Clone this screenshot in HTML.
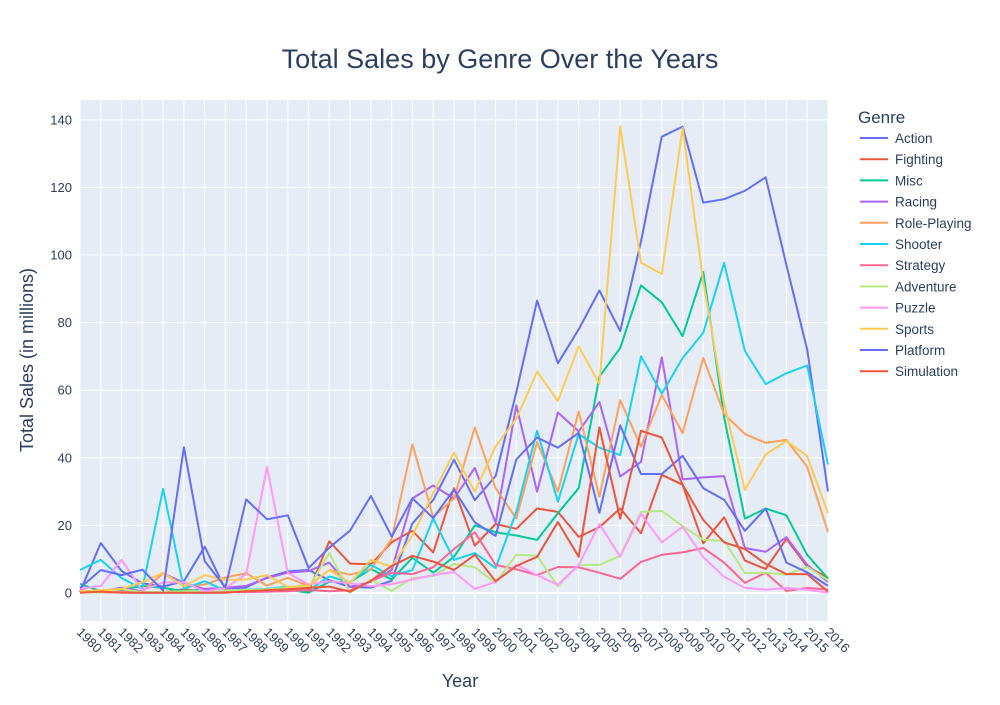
<!DOCTYPE html>
<html><head><meta charset="utf-8"><style>
body{margin:0;background:#fff;}
svg text{font-family:"Liberation Sans",sans-serif;}
</style></head><body>
<svg id="chart" width="1000" height="700" xmlns="http://www.w3.org/2000/svg">
<rect width="1000" height="700" fill="#fff"/>
<text x="500" y="68" text-anchor="middle" font-size="27" fill="#2a3f5f">Total Sales by Genre Over the Years</text>
<rect x="80" y="100" width="748" height="521" fill="#e5ecf6"/>
<g id="grid"></g><g id="series"></g><g id="axes"></g><g id="legend"></g>
<text x="460" y="687" text-anchor="middle" font-size="18" fill="#2a3f5f">Year</text>
<text transform="translate(33,360) rotate(-90)" text-anchor="middle" font-size="18" fill="#2a3f5f">Total Sales (in millions)</text>
</svg>
<script>
const years = [];
for (let y = 1980; y <= 2016; y++) years.push(y);
const yTicks = [0, 20, 40, 60, 80, 100, 120, 140];
const genres = ["Action","Fighting","Misc","Racing","Role-Playing","Shooter","Strategy","Adventure","Puzzle","Sports","Platform","Simulation"];
const colors = ["#636efa","#EF553B","#00cc96","#ab63fa","#FFA15A","#19d3f3","#FF6692","#B6E880","#FF97FF","#FECB52","#636efa","#EF553B"];
const action = [0.3,14.8,6.5,2.9,1.9,3.5,13.7,1.1,1.7,4.6,6.4,6.8,3.8,1.8,1.6,3.6,20.6,27.5,39.4,27.5,34.6,59.4,86.5,68,78,89.5,77.5,104,135,138,115.5,116.5,119,123,97,72,30];
const fighting = [0.8,0.2,0.2,0.2,0.2,1.1,0.3,0.4,0.5,0.6,1.2,0.4,15.3,8.7,8.5,15,18.4,12,31,14,20.4,19,25,24,16.6,19.5,25,17.7,35,32,14.7,22.4,9.6,7.1,16,7.8,4.5];
const misc = [2.7,0.5,0.9,2.1,1.5,0.6,1.0,0.5,0.2,1.3,1.0,0.1,3.3,3.2,7.1,4,10.4,6,10.7,20,18,17,15.7,23.6,31,64,72.5,91,86,76,95,52,22,25,23,11.3,4.3];
const racing = [0.5,0.5,1.6,0.4,5.9,3,1.2,1.5,2.1,4.4,6,6.5,9,1.8,3.3,6.8,28,31.8,28,37,20.8,55.5,30,53.4,47.8,56.5,34.5,38.8,69.7,33.6,34.2,34.6,13.3,12.2,16.5,8.3,3.3];
const rpg = [0.3,0.3,0.4,0.4,5.9,2,2.5,4.6,5.9,2.2,4.5,2.1,6.8,5.4,7,16,44,22.5,28,49,31,22,44.7,30,53.7,28.5,57,43.3,58.6,47.3,69.6,53,47,44.4,45.3,37.3,18];
const shooter = [6.8,9.8,4.4,1.2,30.8,1.2,3.5,0.7,1.0,1.2,1.9,0.8,4.9,3.2,8.3,5,6.8,22,9.8,11.8,7.4,24,48,27,47,43,40.8,70,59,69.5,77,97.7,71.6,61.8,65,67.3,38];
const strategy = [0.2,0.2,0.2,0.2,0.2,0.3,0.3,0.3,0.3,0.4,0.5,0.9,0.5,0.8,3.5,6,5.6,7.6,13,18,8.3,7,5.3,7.7,7.6,6,4.2,9.2,11.3,12,13.3,9,3,6,0.6,1.5,1];
const adventure = [0.4,0.1,1.2,0.2,0.3,0.5,0.6,0.8,0.9,1.1,1.5,1.6,11.8,0.1,3.9,0.6,4.4,5,8.6,7.6,3,11.3,11,2,8.3,8.3,11,24,24.3,19.8,15.7,15.4,5.9,6,5.4,7.7,3.8];
const puzzle = [1.2,2.1,9.8,0.8,3.1,3.2,0.5,1.5,5.6,37.3,6,2.5,3.5,2.9,2,2.6,4,5.3,6.2,1.2,3.3,8.3,5.3,2.4,8.3,20.4,10.7,23.4,15,19.6,10.6,4.8,1.5,1,1.5,1,0.1];
const sports = [0.5,0.8,1.2,3.2,6,2,5.3,3.9,4,5.3,1.8,2.2,6.8,3,9.8,7.8,17,29.5,41.5,30,43.4,51.5,65.5,56.8,73,61.8,138,97.7,94.4,137.6,92,56,30.5,41,45,40.5,23.6];
const platform = [1.5,6.8,5.3,6.9,0.7,43.1,9.4,1.7,27.7,21.8,23,7.4,13.4,18.5,28.7,16.7,28,22.2,30.6,20.9,16.9,39.5,46,43,47.4,23.7,49.6,35.2,35.2,40.6,31,27.6,18.4,25,9,6.1,2.1];
const simulation = [0.1,0.4,0.1,0.1,0.1,0.1,0.1,0.1,0.5,0.8,1.1,1.5,1.9,0.4,3.6,8,11,9.3,6.8,11.3,3.5,8,10.7,21,10.7,49,22,48,46,32,21.6,15,13,8.6,5.6,5.6,0.4];
const seriesValues = [action,fighting,misc,racing,rpg,shooter,strategy,adventure,puzzle,sports,platform,simulation];

const X0=80, X1=828, Y0=593, PPU=3.38;
const xs = yr => X0 + (yr - years[0]) * (X1 - X0) / (years[years.length-1] - years[0]);
const ys = v => Y0 - v * PPU;
const NS = "http://www.w3.org/2000/svg";
function mk(tag, attrs, parent){const e=document.createElementNS(NS,tag);for(const k in attrs)e.setAttribute(k,attrs[k]);parent.appendChild(e);return e;}
const grid=document.getElementById('grid'), ser=document.getElementById('series'), axes=document.getElementById('axes'), leg=document.getElementById('legend');

years.forEach(yr=>{
  const l=mk('line',{x1:xs(yr),x2:xs(yr),y1:100,y2:621,stroke:'#fff','stroke-width':1},grid);
  
  
  const t=mk('text',{transform:`translate(${xs(yr)-4},${633}) rotate(45)`,'font-size':13,fill:'#2a3f5f'},axes);
  t.textContent=yr;
  
  
});
yTicks.forEach(v=>{
  const l=mk('line',{x1:80,x2:828,y1:ys(v),y2:ys(v),stroke:'#fff','stroke-width':v===0?2:1},grid);
  
  
  const t=mk('text',{x:72,y:ys(v)+4.5,'text-anchor':'end','font-size':13,fill:'#2a3f5f'},axes);
  t.textContent=v;
  
  
});

seriesValues.forEach((vals,i)=>{
  const d=vals.map((v,j)=>(j?'L':'M')+xs(years[j]).toFixed(1)+','+ys(v).toFixed(1)).join('');
  const p=mk('path',{d:d,fill:'none',stroke:colors[i],'stroke-width':2,'stroke-linejoin':'round'},ser);
  
  
});

const lt=mk('text',{x:858,y:123,'font-size':17,fill:'#2a3f5f'},leg);
lt.textContent='Genre';


genres.forEach((g,i)=>{
  const y=138+i*21.2;
  const grp=mk('g',{},leg);
  
  
  mk('line',{x1:860,x2:888,y1:y,y2:y,stroke:colors[i],'stroke-width':2},grp);
  const t=mk('text',{x:895,y:y+5,'font-size':13.5,fill:'#2a3f5f'},grp);
  t.textContent=g;
});
</script>
</body></html>
